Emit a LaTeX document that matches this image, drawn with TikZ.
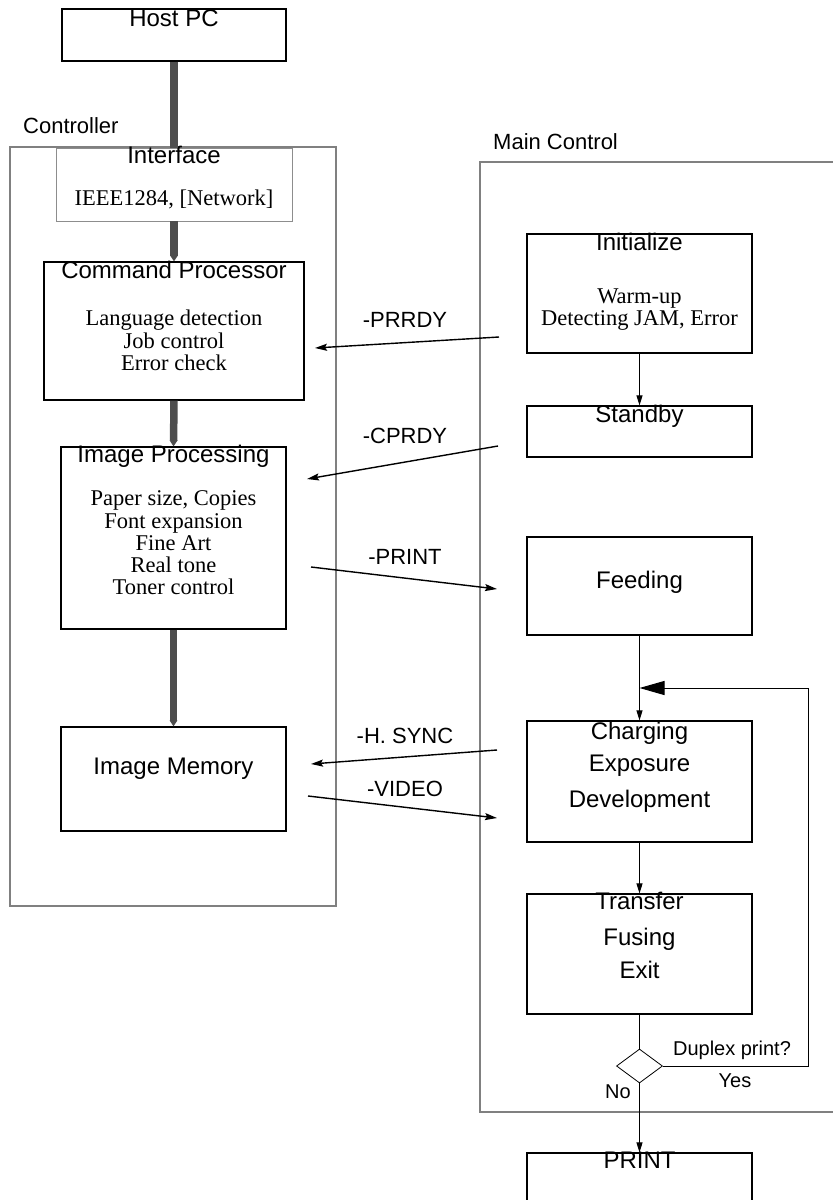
\documentclass[tikz,border=0pt]{standalone}
\usepackage{fontspec}
\setmainfont{Liberation Serif}
\newfontfamily\arialf{Liberation Sans}
\usetikzlibrary{arrows.meta,shapes.geometric}

\definecolor{grpgray}{HTML}{808080}
\definecolor{busgray}{HTML}{4D4D4D}

\begin{document}
\begin{tikzpicture}[x=1pt,y=-1pt,
  grp/.style={draw=grpgray, line width=2.2pt, inner sep=0pt},
  box/.style={draw=black, line width=1.2pt, inner sep=0pt},
  ifbox/.style={draw=grpgray!90, line width=0.9pt, inner sep=0pt},
  decision/.style={diamond, draw=black, line width=0.8pt, inner sep=0pt,
    minimum width=46pt, minimum height=34pt},
  bus/.style={draw=busgray, line width=7.5pt},
  bustip/.style={bus, -{Triangle[length=6pt,width=7.5pt]}},
  flow/.style={draw=black, line width=1pt, -{Triangle[length=10pt,width=6pt]}},
  plainln/.style={draw=black, line width=1pt},
  sig/.style={draw=black, line width=1.4pt, -{Stealth[length=12pt,width=7pt,inset=2pt]}},
  ttl/.style={inner sep=0pt, anchor=base, font=\arialf\fontsize{24}{24}\selectfont},
  sub/.style={inner sep=0pt, anchor=base, font=\fontsize{22.5}{22}\selectfont},
  sigtxt/.style={inner sep=0pt, anchor=base, font=\arialf\fontsize{22}{22}\selectfont},
  grptxt/.style={inner sep=0pt, anchor=base west, font=\arialf\fontsize{22}{22}\selectfont},
  small/.style={inner sep=0pt, anchor=base, font=\arialf\fontsize{20}{20}\selectfont}
]
\useasboundingbox (0,0) rectangle (833,1200);
\clip (0,0) rectangle (833,1200);

% ---- group frames ----
\node[grp, minimum width=326pt, minimum height=759pt] (ctrlgrp) at (173,526.5) {};
\node[grp, minimum width=365pt, minimum height=950pt] (maingrp) at (662.5,637) {};
\node[grptxt] (ctrllbl) at (23,133) {Controller};
\node[grptxt] (mainlbl) at (493,149) {Main Control};

% ---- controller side ----
\node[box, minimum width=224pt, minimum height=52pt] (host) at (174,35) {};
\node[ttl] (hostT) at (174,26) {Host PC};

\node[ifbox, fill=white, minimum width=236pt, minimum height=73pt] (iface) at (174,184.5) {};
\node[ttl] (ifaceT) at (174,163) {Interface};
\node[sub] (ifaceS) at (174,205) {IEEE1284, [Network]};

\node[box, minimum width=260pt, minimum height=138pt] (cmd) at (174,331) {};
\node[ttl] (cmdT) at (174,278) {Command Processor};
\node[sub] (cmdA) at (174,325) {Language detection};
\node[sub] (cmdB) at (174,348) {Job control};
\node[sub] (cmdC) at (174,370) {Error check};

\node[box, minimum width=225pt, minimum height=182pt] (imgp) at (173.5,538) {};
\node[ttl] (imgpT) at (173.5,462) {Image Processing};
\node[sub] (imgpA) at (173.5,505) {Paper size, Copies};
\node[sub] (imgpB) at (173.5,528) {Font expansion};
\node[sub] (imgpC) at (173.5,550) {Fine Art};
\node[sub] (imgpD) at (173.5,572) {Real tone};
\node[sub] (imgpE) at (173.5,594) {Toner control};

\node[box, minimum width=225pt, minimum height=104pt] (imgm) at (173.5,779) {};
\node[ttl] (imgmT) at (173.5,774) {Image Memory};

% data path
\draw[bus] (host.south) -- (iface.north);
\draw[bustip] (iface.south) -- (cmd.north);
\draw[bustip] (cmd.south) -- (imgp.north);
\draw[bustip] (imgp.south) -- (imgm.north);

% ---- engine side ----
\node[box, minimum width=225pt, minimum height=119pt] (init) at (639.5,293.5) {};
\node[ttl] (initT) at (639.5,250) {Initialize};
\node[sub] (initA) at (639.5,303) {Warm-up};
\node[sub] (initB) at (639.5,325) {Detecting JAM, Error};

\node[box, minimum width=225pt, minimum height=51pt] (stby) at (639.5,431.5) {};
\node[ttl] (stbyT) at (639.5,422) {Standby};

\node[box, minimum width=225pt, minimum height=98pt] (feed) at (639.5,586) {};
\node[ttl] (feedT) at (639.5,588) {Feeding};

\node[box, minimum width=225pt, minimum height=121pt] (chg) at (639.5,781.5) {};
\node[ttl] (chgA) at (639.5,739) {Charging};
\node[ttl] (chgB) at (639.5,771) {Exposure};
\node[ttl] (chgC) at (639.5,807) {Development};

\node[box, minimum width=225pt, minimum height=120pt] (xfer) at (639.5,954) {};
\node[ttl] (xferA) at (639.5,909) {Transfer};
\node[ttl] (xferB) at (639.5,945) {Fusing};
\node[ttl] (xferC) at (639.5,978) {Exit};

\node[decision] (dia) at (639.5,1066) {};
\node[small] (diaQ) at (732,1055) {Duplex print?};
\node[small] (diaY) at (735,1087) {Yes};
\node[small] (diaN) at (618,1098) {No};

\node[box, minimum width=225pt, minimum height=64pt] (print) at (639.5,1185) {};
\node[ttl] (printT) at (639.5,1168) {PRINT};

\draw[flow] (init.south) -- (stby.north);
\draw[flow] (feed.south) -- (chg.north);
\draw[flow] (chg.south) -- (xfer.north);
\draw[plainln] (xfer.south) -- (dia.north);
\draw[flow] (dia.south) -- (print.north);

% duplex loop back to the imaging stage
\coordinate (loopc) at (808,688);
\draw[plainln, -{Triangle[length=25pt,width=14pt]}]
  (dia.east) -| (loopc) -- (loopc -| feed.south);

% ---- handshake signals ----
\coordinate (prS) at (499,337);  \coordinate (prE) at (315,348);
\coordinate (cpS) at (498,446);  \coordinate (cpE) at (307,479);
\coordinate (ptS) at (311,567);  \coordinate (ptE) at (497,589);
\coordinate (hsS) at (497,750);  \coordinate (hsE) at (311,764);
\coordinate (vdS) at (308,796);  \coordinate (vdE) at (497,818);

\draw[sig] (prS) -- (prE);
\draw[sig] (cpS) -- (cpE);
\draw[sig] (ptS) -- (ptE);
\draw[sig] (hsS) -- (hsE);
\draw[sig] (vdS) -- (vdE);

\node[sigtxt] (prT) at (405,327) {-PRRDY};
\node[sigtxt] (cpT) at (405,443) {-CPRDY};
\node[sigtxt] (ptT) at (405,564) {-PRINT};
\node[sigtxt] (hsT) at (405,743) {-H. SYNC};
\node[sigtxt] (vdT) at (405,796) {-VIDEO};

\end{tikzpicture}
\end{document}
